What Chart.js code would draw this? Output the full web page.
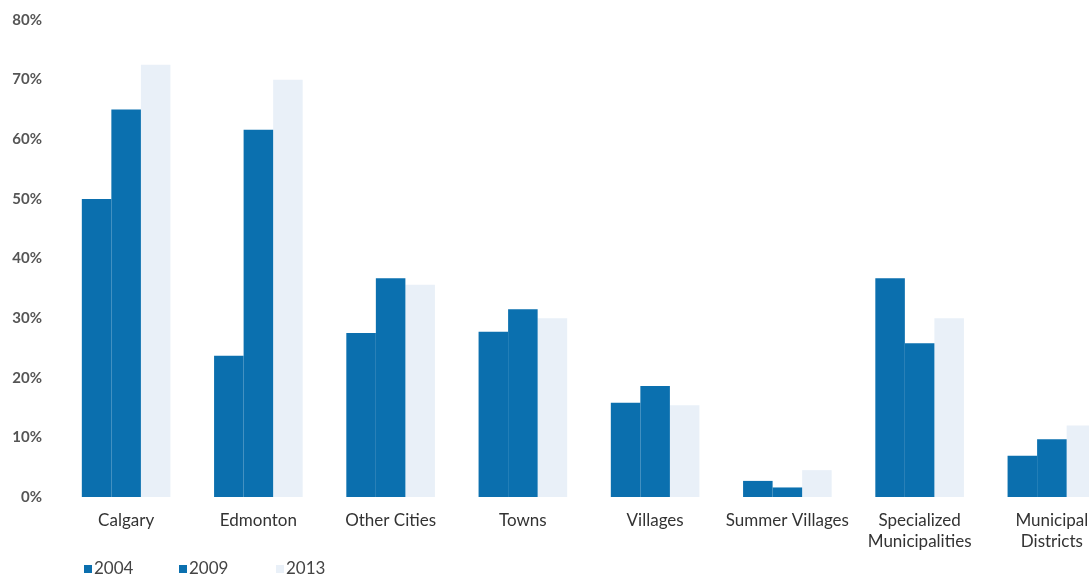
<!DOCTYPE html>
<html>
<head>
<meta charset="utf-8">
<script src="https://cdn.jsdelivr.net/npm/chart.js@4"></script>
<style>
  html, body { margin: 0; padding: 0; background: #fff; overflow: hidden; }
  #wrap { position: relative; width: 1120px; height: 576px; }
  #legend { position: absolute; left: 0; top: 557px; font: 17px Lato, sans-serif; color: #444; }
  #legend span.item { position: absolute; white-space: nowrap; }
  #legend span.box { display: inline-block; width: 8px; height: 8px; margin-right: 2px; vertical-align: 1px; }
</style>
</head>
<body>
<div id="wrap">
  <canvas id="chart" width="1120" height="576"></canvas>
  <div id="legend"></div>
</div>
<script>
// categorias e valores
const categories = ['Calgary', 'Edmonton', 'Other Cities', 'Towns', 'Villages', 'Summer Villages',
  ['Specialized', 'Municipalities'], ['Municipal', 'Districts']];
const years = ['2004', '2009', '2013'];
const values2004 = [50, 23.7, 27.5, 27.7, 15.8, 2.7, 36.7, 6.9];
const values2009 = [65, 61.6, 36.7, 31.5, 18.6, 1.6, 25.8, 9.7];
const values2013 = [72.5, 70, 35.6, 30, 15.4, 4.5, 30, 12];
const yTicks = [0, 10, 20, 30, 40, 50, 60, 70, 80];

const colors = ['#0b6fae', '#0b70af', '#e9f0f8'];

const ctx = document.getElementById('chart').getContext('2d');
const chart = new Chart(ctx, {
  type: 'bar',
  data: {
    labels: categories,
    datasets: [
      { label: years[0], data: values2004, backgroundColor: colors[0] },
      { label: years[1], data: values2009, backgroundColor: colors[1] },
      { label: years[2], data: values2013, backgroundColor: colors[2] }
    ]
  },
  options: {
    responsive: false,
    animation: false,
    layout: { padding: { left: 0, top: 20, right: 2, bottom: 0 } },
    datasets: { bar: { barPercentage: 1, categoryPercentage: 0.67 } },
    plugins: {
      legend: { display: false }, // legenda feita em HTML
      title: { display: false },
      tooltip: { enabled: false }
    },
    scales: {
      x: {
        grid: { display: false, drawTicks: false },
        border: { display: false },
        ticks: {
          color: '#333',
          padding: 13,
          maxRotation: 0,
          autoSkip: false,
          font: { family: 'Lato', size: 17, lineHeight: 1.25 }
        },
        afterFit: (scale) => { scale.height = 79; scale.paddingTop = 0; }
      },
      y: {
        min: 0,
        max: 80,
        grid: { display: false, drawTicks: false },
        border: { display: false },
        afterBuildTicks: (scale) => { scale.ticks = yTicks.map(v => ({ value: v })); },
        ticks: {
          color: '#555',
          padding: 18,
          font: { family: 'Lato', size: 15, weight: 'bold' },
          callback: (val) => val + '%'
        },
        afterFit: (scale) => { scale.width = 60; scale.paddingTop = 0; scale.paddingBottom = 0; }
      }
    }
  }
});

// legenda manual
const legendPos = [84, 179, 276];
const legend = document.getElementById('legend');
years.forEach((y, i) => {
  const item = document.createElement('span');
  item.className = 'item';
  item.style.left = legendPos[i] + 'px';
  item.innerHTML = '<span class="box" style="background:' + colors[i] + '"></span>' + y;
  legend.appendChild(item);
});
</script>
</body>
</html>
